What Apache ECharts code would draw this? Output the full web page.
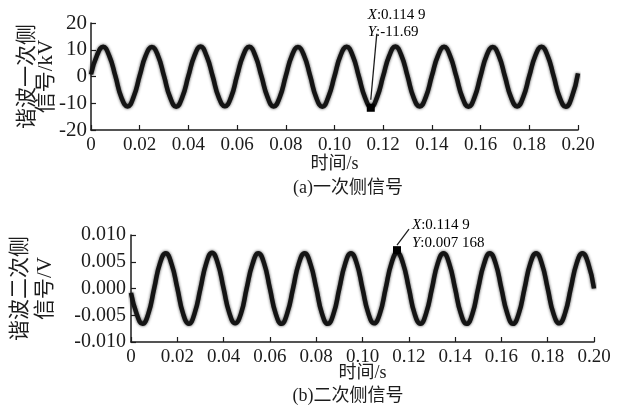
<!DOCTYPE html>
<html>
<head>
<meta charset="utf-8">
<script src="https://cdn.jsdelivr.net/npm/echarts@6/dist/echarts.min.js"></script>
<style>
  html, body { margin: 0; padding: 0; background: #fff; }
  #chart { width: 641px; height: 417px; }
</style>
</head>
<body>
<div id="chart"></div>
<script>
// time axis (s), one sample every 0.0025 s
const timeS = [
  0, 0.0025, 0.005, 0.0075, 0.01, 0.0125, 0.015, 0.0175,
  0.02, 0.0225, 0.025, 0.0275, 0.03, 0.0325, 0.035, 0.0375,
  0.04, 0.0425, 0.045, 0.0475, 0.05, 0.0525, 0.055, 0.0575,
  0.06, 0.0625, 0.065, 0.0675, 0.07, 0.0725, 0.075, 0.0775,
  0.08, 0.0825, 0.085, 0.0875, 0.09, 0.0925, 0.095, 0.0975,
  0.1, 0.1025, 0.105, 0.1075, 0.11, 0.1125, 0.115, 0.1175,
  0.12, 0.1225, 0.125, 0.1275, 0.13, 0.1325, 0.135, 0.1375,
  0.14, 0.1425, 0.145, 0.1475, 0.15, 0.1525, 0.155, 0.1575,
  0.16, 0.1625, 0.165, 0.1675, 0.17, 0.1725, 0.175, 0.1775,
  0.18, 0.1825, 0.185, 0.1875, 0.19, 0.1925, 0.195, 0.1975,
  0.2
];

// (a) primary side harmonic signal, kV
const primaryKV = [
  0.8, 8.0, 11.1, 7.7, 0.2, -7.9, -11.2, -7.6,
  0.3, 7.9, 11.0, 7.8, 0.1, -7.8, -11.3, -7.7,
  0.2, 7.8, 11.2, 7.6, 0.0, -7.9, -11.1, -7.8,
  0.3, 7.9, 11.1, 7.7, 0.1, -7.7, -11.2, -7.8,
  0.2, 7.8, 11.0, 7.8, 0.2, -7.9, -11.3, -7.6,
  0.1, 7.9, 11.1, 7.7, 0.0, -7.8, -11.4, -7.7,
  0.2, 7.8, 11.2, 7.8, 0.1, -7.9, -11.2, -7.7,
  0.3, 7.8, 11.1, 7.6, 0.1, -7.8, -11.3, -7.8,
  0.2, 7.9, 11.0, 7.7, 0.0, -7.8, -11.2, -7.7,
  0.2, 7.8, 11.1, 7.8, 0.1, -7.9, -11.3, -7.6,
  1.2
];

// (b) secondary side harmonic signal, V
const secondaryV = [
  -0.0008, -0.0048, -0.0066, -0.0047, 0.0000, 0.0047, 0.0066, 0.0046,
  0.0001, -0.0047, -0.0066, -0.0046, 0.0000, 0.0047, 0.0067, 0.0047,
  0.0000, -0.0046, -0.0065, -0.0047, 0.0001, 0.0046, 0.0066, 0.0047,
  0.0000, -0.0047, -0.0066, -0.0046, 0.0000, 0.0047, 0.0066, 0.0046,
  0.0001, -0.0047, -0.0066, -0.0047, 0.0000, 0.0046, 0.0066, 0.0047,
  0.0000, -0.0046, -0.0065, -0.0047, 0.0000, 0.0047, 0.0067, 0.0047,
  0.0001, -0.0047, -0.0066, -0.0046, 0.0000, 0.0047, 0.0066, 0.0046,
  0.0000, -0.0047, -0.0066, -0.0047, 0.0001, 0.0046, 0.0066, 0.0047,
  0.0000, -0.0046, -0.0066, -0.0047, 0.0000, 0.0047, 0.0066, 0.0046,
  0.0000, -0.0047, -0.0065, -0.0046, 0.0001, 0.0047, 0.0066, 0.0047,
  0.0000
];

// data tips marked in the figure
const tipPrimary = [0.1149, -11.69];
const tipSecondary = [0.1149, 0.007168];

const serif = "'Liberation Serif', 'Noto Sans CJK SC', serif";
const ink = '#1c1c1c';

function pairs(xs, ys) {
  return xs.map((x, i) => [x, ys[i]]);
}

function xAxisFor(gridIndex, gap) {
  return {
    type: 'value', gridIndex: gridIndex,
    min: 0, max: 0.2, interval: 0.02,
    name: '时间/s', nameLocation: 'middle', nameGap: gap, nameMoveOverlap: false,
    nameTextStyle: { fontFamily: serif, fontSize: 18, color: ink },
    axisLine: { onZero: false, lineStyle: { color: ink, width: 1.5 } },
    axisTick: { inside: true, length: 5, lineStyle: { color: ink, width: 1.2 } },
    axisLabel: {
      fontFamily: serif, fontSize: 19, color: ink, margin: 6,
      formatter: v => (v === 0 ? '0' : v.toFixed(2))
    },
    splitLine: { show: false }
  };
}

function waveSeries(idx, data, tip) {
  return [
    {
      type: 'line', xAxisIndex: idx, yAxisIndex: idx,
      data: data, showSymbol: false, smooth: 0.5,
      lineStyle: {
        color: '#141414', width: 4.5,
        // blur mimics the noisy, fuzzy trace
        shadowColor: 'rgba(0,0,0,0.75)', shadowBlur: 3
      },
      markPoint: {
        symbol: 'rect', symbolSize: 8, silent: true,
        itemStyle: { color: '#000' },
        label: { show: false },
        data: [{ coord: tip }]
      }
    }
  ];
}

const chart = echarts.init(document.getElementById('chart'), null, { renderer: 'canvas' });

const option = {
  animation: false,
  backgroundColor: '#fff',
  grid: [
    { left: 91, top: 23, width: 487, height: 107 },
    { left: 121, top: 235, width: 473, height: 107 }
  ],
  xAxis: [xAxisFor(0, 25), xAxisFor(1, 22)],
  yAxis: [
    {
      type: 'value', gridIndex: 0, min: -20, max: 20, interval: 10,
      name: '谐波一次侧\n信号/kV', nameLocation: 'middle', nameRotate: 90, nameGap: 35,
      nameMoveOverlap: false,
      nameTextStyle: { fontFamily: serif, fontSize: 21, color: ink, lineHeight: 19 },
      axisLine: { lineStyle: { color: ink, width: 1.5 } },
      axisTick: { inside: true, length: 5, lineStyle: { color: ink, width: 1.2 } },
      axisLabel: { fontFamily: serif, fontSize: 21, color: ink, margin: 4 },
      splitLine: { show: false }
    },
    {
      type: 'value', gridIndex: 1, min: -0.01, max: 0.01, interval: 0.005,
      name: '谐波二次侧\n信号/V', nameLocation: 'middle', nameRotate: 90, nameGap: 73,
      nameMoveOverlap: false,
      nameTextStyle: { fontFamily: serif, fontSize: 21, color: ink, lineHeight: 25 },
      axisLine: { lineStyle: { color: ink, width: 1.5 } },
      axisTick: { inside: true, length: 5, lineStyle: { color: ink, width: 1.2 } },
      axisLabel: {
        fontFamily: serif, fontSize: 20, color: ink, margin: 5,
        formatter: v => v.toFixed(3)
      },
      splitLine: { show: false }
    }
  ],
  series: [
    ...waveSeries(0, pairs(timeS, primaryKV), tipPrimary),
    ...waveSeries(1, pairs(timeS, secondaryV), tipSecondary)
  ]
};

chart.setOption(option);

// captions and data-tip callouts, placed from the library's own scales
const pA = chart.convertToPixel({ gridIndex: 0 }, tipPrimary);
const pB = chart.convertToPixel({ gridIndex: 1 }, tipSecondary);

const tipRich = {
  i: { fontFamily: serif, fontSize: 15, fontStyle: 'italic', color: ink },
  n: { fontFamily: serif, fontSize: 15, color: ink }
};

function tipText(x, y, axis, value) {
  return {
    type: 'text', x: x, y: y,
    style: {
      text: '{i|' + axis + '}{n|:' + value + '}',
      rich: tipRich, verticalAlign: 'middle', align: 'left'
    }
  };
}

chart.setOption({
  graphic: [
    // (a) callout
    { type: 'line', shape: { x1: pA[0], y1: pA[1] - 8, x2: pA[0] + 6, y2: pA[1] - 74 },
      style: { stroke: ink, lineWidth: 1.3 } },
    tipText(pA[0] - 3, pA[1] - 93, 'X', '0.114 9'),
    tipText(pA[0] - 3, pA[1] - 76, 'Y', '-11.69'),
    // (b) callout
    { type: 'line', shape: { x1: pB[0], y1: pB[1] - 5, x2: pB[0] + 12, y2: pB[1] - 21 },
      style: { stroke: ink, lineWidth: 1.3 } },
    tipText(pB[0] + 15, pB[1] - 25, 'X', '0.114 9'),
    tipText(pB[0] + 15, pB[1] - 7, 'Y', '0.007 168'),
    // captions
    { type: 'text', x: 348, y: 188,
      style: { text: '(a)一次侧信号', fontFamily: serif, fontSize: 18, fill: ink,
               align: 'center', verticalAlign: 'middle' } },
    { type: 'text', x: 348, y: 396,
      style: { text: '(b)二次侧信号', fontFamily: serif, fontSize: 18, fill: ink,
               align: 'center', verticalAlign: 'middle' } }
  ]
});
</script>
</body>
</html>
